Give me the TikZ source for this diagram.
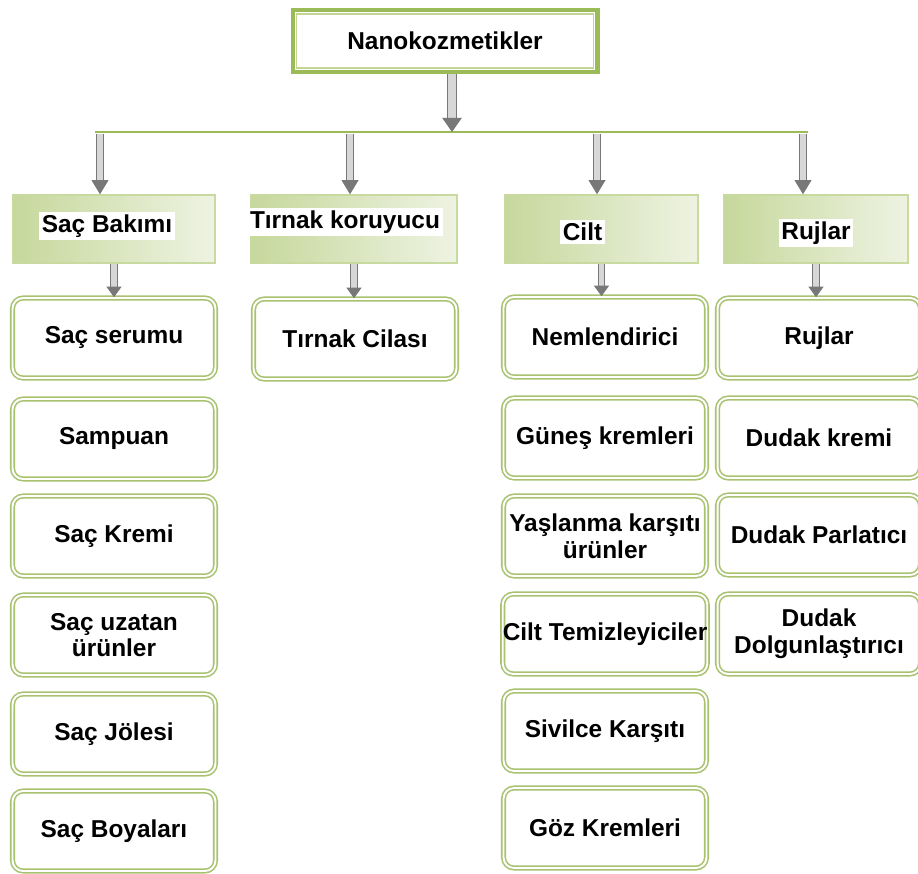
\documentclass[tikz,border=0pt]{standalone}
\usepackage{fontspec}
\setmainfont{Liberation Sans}
\usepackage{tikz}
\usetikzlibrary{arrows.meta,positioning}

\definecolor{olivegreen}{RGB}{155,187,89}
\definecolor{innergreen}{RGB}{196,214,150}
\definecolor{leafgreen}{RGB}{168,194,112}
\definecolor{catedge}{RGB}{200,218,160}
\definecolor{catdark}{RGB}{198,216,156}
\definecolor{catlight}{RGB}{238,243,226}
\definecolor{arrowedge}{RGB}{120,120,120}
\definecolor{arrowfill}{RGB}{215,215,215}

\tikzset{
	labelfont/.style={font=\fontsize{13.9}{15.2}\selectfont\bfseries},
	rootbox/.style={draw=olivegreen,line width=2.3pt,fill=white,inner sep=0pt,minimum width=6.1cm,minimum height=1.24cm,labelfont},
	catbox/.style={draw=catedge,line width=0.8pt,left color=catdark,right color=catlight,inner sep=0pt,minimum height=1.36cm},
	cattext/.style={fill=white,inner sep=1.5pt,labelfont},
	leafbox/.style={draw=leafgreen,double=white,line width=0.9pt,double distance=1.1pt,rounded corners=6pt,fill=white,inner sep=0pt,minimum width=4.06cm,minimum height=1.6cm,align=center,labelfont},
	bigarrow/.style={draw=arrowedge,double=arrowfill,line width=0.7pt,double distance=4.2pt,-{Triangle[width=11pt,length=8pt]}},
	midarrow/.style={draw=arrowedge,double=arrowfill,line width=0.7pt,double distance=3.6pt,-{Triangle[width=9.5pt,length=8pt]}},
	smallarrow/.style={draw=arrowedge,double=arrowfill,line width=0.7pt,double distance=3pt,-{Triangle[width=8.5pt,length=6pt]}},
	busline/.style={draw=olivegreen,line width=1.4pt},
}

\begin{document}
\begin{tikzpicture}[x=0.02cm,y=-0.02cm]
\useasboundingbox (0,0) rectangle (918,874);

% root
\node[rootbox] (nano) at (445,41) {Nanokozmetikler};
\draw[innergreen,line width=0.6pt] ([shift={(6,-6)}]nano.south west) rectangle ([shift={(-6,6)}]nano.north east);

% bus and drop points
\coordinate (busL) at (95,132);
\coordinate (busR) at (808,132);
\coordinate (hub) at (452,132);
\coordinate (d1) at (100,134);
\coordinate (d2) at (350,134);
\coordinate (d3) at (597,134);
\coordinate (d4) at (803,134);
\draw[busline] (busL) -- (busR);
\draw[bigarrow] (hub |- nano.south) -- (hub);

% categories
\node[catbox,minimum width=4.04cm] (sac) at (114,229) {};
\node[catbox,minimum width=4.12cm] (tirnak) at (354,229) {};
\node[catbox,minimum width=3.86cm] (cilt) at (601.5,229) {};
\node[catbox,minimum width=3.68cm] (ruj) at (816,229) {};
\node[cattext] at ([shift={(-7,-3)}]sac.center) {Saç Bakımı};
\node[cattext] at ([shift={(-9,-7)}]tirnak.center) {Tırnak koruyucu};
\node[cattext] at ([shift={(-19,3)}]cilt.center) {Cilt};
\node[cattext] at ([shift={(0,4)}]ruj.center) {Rujlar};
\draw[midarrow] (d1) -- (d1 |- sac.north);
\draw[midarrow] (d2) -- (d2 |- tirnak.north);
\draw[midarrow] (d3) -- (d3 |- cilt.north);
\draw[midarrow] (d4) -- (d4 |- ruj.north);

% hair care
\node[leafbox] (serum) at (114,338) {Saç serumu};
\node[leafbox] (sampuan) at (114,439) {Sampuan};
\node[leafbox] (sackremi) at (114,536) {Saç Kremi};
\node[leafbox] (uzatan) at (114,635) {Saç uzatan\\ürünler};
\node[leafbox] (jole) at (114,734) {Saç Jölesi};
\node[leafbox] (boya) at (114,831) {Saç Boyaları};
\draw[smallarrow] (sac.south) -- (sac.south |- serum.north);

% nails
\node[leafbox] (cila) at (355,339) {Tırnak Cilası};
\draw[smallarrow] (tirnak.south) -- (tirnak.south |- cila.north);

% skin
\node[leafbox] (nemlendirici) at (605,337) {Nemlendirici};
\node[leafbox] (gunes) at (605,438) {Güneş kremleri};
\node[leafbox] (yaslanma) at (605,536) {Yaşlanma karşıtı\\ürünler};
\node[leafbox] (temizleyici) at (605,634) {Cilt Temizleyiciler};
\node[leafbox] (sivilce) at (605,731) {Sivilce Karşıtı};
\node[leafbox] (goz) at (605,828) {Göz Kremleri};
\draw[smallarrow] (cilt.south) -- (cilt.south |- nemlendirici.north);

% lips
\node[leafbox] (rujlar) at (819,338) {Rujlar};
\node[leafbox] (dudakkremi) at (819,438) {Dudak kremi};
\node[leafbox] (parlatici) at (819,535) {Dudak Parlatıcı};
\node[leafbox] (dolgun) at (819,634) {Dudak\\Dolgunlaştırıcı};
\draw[smallarrow] (ruj.south) -- (ruj.south |- rujlar.north);
\end{tikzpicture}
\end{document}
